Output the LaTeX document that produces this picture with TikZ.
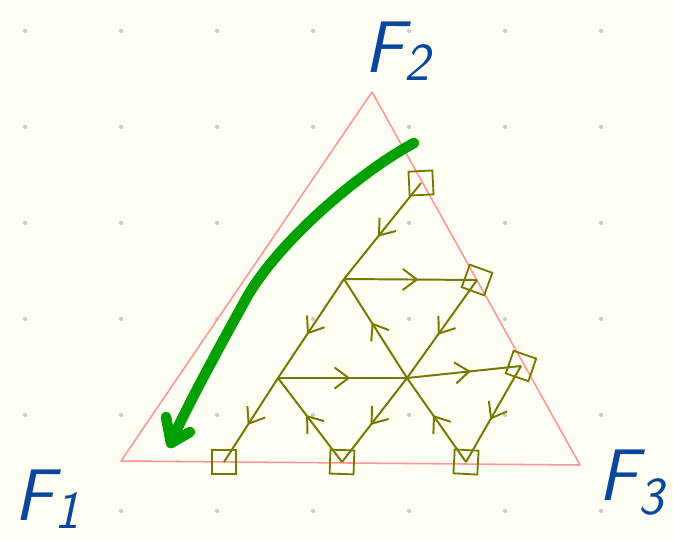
\documentclass[tikz,border=0pt]{standalone}
\usepackage{tikz}
\usetikzlibrary{arrows.meta,decorations.markings}
\definecolor{paper}{RGB}{254,254,242}
\definecolor{dotgrey}{RGB}{205,205,200}
\definecolor{pinkc}{RGB}{255,150,150}
\definecolor{olivec}{RGB}{120,120,0}
\definecolor{greenc}{RGB}{0,160,0}
\definecolor{inkblue}{RGB}{10,70,155}

\begin{document}
\begin{tikzpicture}[x=0.025cm,y=-0.025cm,
    lat/.style={olivec,line width=1.4pt},
    mid/.style={postaction={decorate},decoration={markings,
        mark=at position 0.56 with {\arrow{Straight Barb[length=10pt,width=15pt]}}}},
    endsq/.style={draw=olivec,line width=1.3pt,minimum size=17pt,inner sep=0pt},
    flab/.style={text=inkblue,anchor=base west,inner sep=0pt,
        font=\fontsize{52}{52}\selectfont\sffamily\slshape}]
  % paper with dot grid
  \fill[paper] (0,0) rectangle (673,541);
  \useasboundingbox (0,0) rectangle (673,541);
  \foreach \i in {0,...,6}
    \foreach \j in {0,...,5}
      \fill[dotgrey] (25+96*\i,31+96*\j) circle (1.5pt);

  % the simplex
  \draw[pinkc,line width=1.1pt,line join=round] (372,92) -- (121,461) -- (580,465) -- cycle;

  % corner labels
  \node[flab] (f2) at (364,72) {F\kern1pt\raisebox{-6pt}{\fontsize{38}{38}\selectfont 2}};
  \node[flab] (f1) at (14,520) {F\kern1pt\raisebox{-6pt}{\fontsize{38}{38}\selectfont 1}};
  \node[flab] (f3) at (598,500) {F\kern1pt\raisebox{-10pt}{\fontsize{38}{38}\selectfont 3}};

  % lattice points
  \coordinate (b) at (344,279);
  \coordinate (c) at (278,378);
  \coordinate (d) at (407,378);
  \node[endsq,rotate=3] (a) at (421,183) {};
  \node[endsq,rotate=-20] (r1) at (477,280) {};
  \node[endsq,rotate=-19] (r2) at (521,366) {};
  \node[endsq] (s1) at (224,462) {};
  \node[endsq,rotate=-2] (s2) at (342,462) {};
  \node[endsq,rotate=-3] (s3) at (466,462) {};

  % the flow
  \draw[lat,mid] (a.center) -- (b);
  \draw[lat,mid] (b) -- (r1.center);
  \draw[lat,mid] (b) -- (c);
  \draw[lat,mid] (d) -- (b);
  \draw[lat,mid] (r1.center) -- (d);
  \draw[lat,mid] (c) -- (d);
  \draw[lat,mid] (d) -- (r2.center);
  \draw[lat,mid] (r2.center) -- (s3.center);
  \draw[lat,mid] (s3.center) -- (d);
  \draw[lat,mid] (d) -- (s2.center);
  \draw[lat,mid] (s2.center) -- (c);
  \draw[lat,mid] (c) -- (s1.center);

  % big green stroke
  \draw[greenc,line width=7.5pt,line cap=round,line join=round]
    (414,143) .. controls (360,172) and (280,240) .. (247,297)
    .. controls (225,337) and (190,400) .. (171,442);
  \draw[greenc,line width=7.5pt,line cap=round,line join=round] (166,417) -- (171,443) -- (190,432);
\end{tikzpicture}
\end{document}
